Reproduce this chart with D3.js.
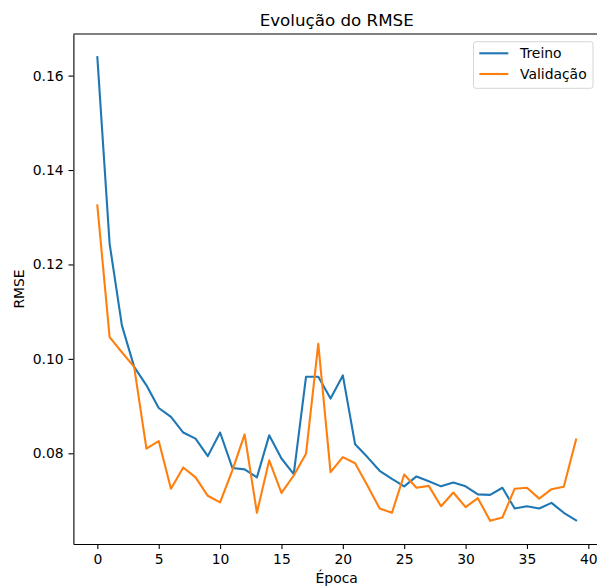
<!DOCTYPE html>
<html>
<head>
    <meta charset="utf-8" />
    <title>Evolução do RMSE</title>
    <style>
        body { margin: 0; background: #fff; }
        svg { display: block; font-family: "DejaVu Sans", sans-serif; }
        .line { fill: none; stroke-width: 2.1px; stroke-linejoin: round; stroke-linecap: square; }
        .axis text { font-size: 13.9px; fill: #000; font-family: "DejaVu Sans", sans-serif; }
        .axis line, .axis path { stroke: #000; stroke-width: 1.1px; }
    </style>
    <script src="https://cdn.jsdelivr.net/npm/d3@7"></script>
</head>
<body>
    <script>
        // data
        const epochs = d3.range(0, 40);
        const treino = [0.1639, 0.1244, 0.1071, 0.0983, 0.0944, 0.0896, 0.0877, 0.0844, 0.0831, 0.0794,
                        0.0844, 0.0769, 0.0766, 0.0749, 0.0838, 0.0789, 0.0756, 0.0962, 0.0962, 0.0916,
                        0.0965, 0.0819, 0.0792, 0.0763, 0.0746, 0.0730, 0.0751, 0.0741, 0.0730, 0.0738,
                        0.0730, 0.0713, 0.0712, 0.0727, 0.0683, 0.0688, 0.0683, 0.0695, 0.0674, 0.0658];
        const validacao = [0.1325, 0.1046, 0.1014, 0.0983, 0.0810, 0.0826, 0.0725, 0.0770, 0.0749, 0.0710,
                           0.0696, 0.0764, 0.0840, 0.0674, 0.0785, 0.0716, 0.0753, 0.0799, 0.1032, 0.0760,
                           0.0792, 0.0779, 0.0732, 0.0683, 0.0674, 0.0755, 0.0727, 0.0731, 0.0688, 0.0717,
                           0.0686, 0.0705, 0.0657, 0.0664, 0.0725, 0.0727, 0.0704, 0.0724, 0.0729, 0.0829];
        const xTicks = [0, 5, 10, 15, 20, 25, 30, 35, 40];
        const yTicks = [0.08, 0.10, 0.12, 0.14, 0.16];
        const seriesNames = ['Treino', 'Validação'];
        const colors = ['#1f77b4', '#ff7f0e'];

        const W = 597, H = 587;
        // plot box (right edge falls just outside the picture)
        const box = { left: 73.4, right: 600, top: 34, bottom: 544 };

        // matplotlib-like 5% margins
        const xExt = d3.extent(epochs);
        const xPad = (xExt[1] - xExt[0]) * 0.05;
        const allVals = treino.concat(validacao);
        const yExt = d3.extent(allVals);
        const yPad = (yExt[1] - yExt[0]) * 0.05;

        const x = d3.scaleLinear().domain([xExt[0] - xPad, xExt[1] + xPad]).range([box.left, box.right]);
        const y = d3.scaleLinear().domain([yExt[0] - yPad, yExt[1] + yPad]).range([box.bottom, box.top]);

        const svg = d3.select('body').append('svg')
            .attr('width', W)
            .attr('height', H);

        // lines
        const line = d3.line()
            .x((d, i) => x(epochs[i]))
            .y(d => y(d));

        [treino, validacao].forEach((s, k) => {
            svg.append('path')
                .datum(s)
                .attr('class', 'line')
                .style('stroke', colors[k])
                .attr('d', line);
        });

        // axes
        svg.append('g')
            .attr('class', 'axis')
            .attr('transform', 'translate(0,' + box.bottom + ')')
            .call(d3.axisBottom(x).tickValues(xTicks).tickFormat(d3.format('d'))
                .tickSize(4.9).tickPadding(4.9).tickSizeOuter(0));

        svg.append('g')
            .attr('class', 'axis')
            .attr('transform', 'translate(' + box.left + ',0)')
            .call(d3.axisLeft(y).tickValues(yTicks).tickFormat(d3.format('.2f'))
                .tickSize(4.9).tickPadding(4.9).tickSizeOuter(0));

        // top + right spines
        svg.append('line')
            .attr('x1', box.left).attr('x2', box.right)
            .attr('y1', box.top).attr('y2', box.top)
            .style('stroke', '#000').style('stroke-width', 1.1);
        svg.append('line')
            .attr('x1', box.right).attr('x2', box.right)
            .attr('y1', box.top).attr('y2', box.bottom)
            .style('stroke', '#000').style('stroke-width', 1.1);

        // title and axis labels
        const cx = (box.left + box.right) / 2;
        svg.append('text')
            .attr('x', cx).attr('y', 26)
            .attr('text-anchor', 'middle')
            .style('font-size', '16.7px')
            .text('Evolução do RMSE');

        svg.append('text')
            .attr('x', cx).attr('y', 583)
            .attr('text-anchor', 'middle')
            .style('font-size', '13.9px')
            .text('Época');

        svg.append('text')
            .attr('transform', 'translate(24,' + (box.top + box.bottom) / 2 + ') rotate(-90)')
            .attr('text-anchor', 'middle')
            .style('font-size', '13.9px')
            .text('RMSE');

        // legend
        const lg = svg.append('g').attr('transform', 'translate(473.5,41.7)');
        lg.append('rect')
            .attr('width', 119.5).attr('height', 46.6)
            .attr('rx', 2.5)
            .style('fill', '#fff').style('fill-opacity', 0.8)
            .style('stroke', '#d6d6d6').style('stroke-width', 1);

        const items = lg.selectAll('.item')
            .data(seriesNames)
            .enter().append('g')
            .attr('class', 'item')
            .attr('transform', (d, i) => 'translate(0,' + (11.6 + i * 20.7) + ')');
        items.append('line')
            .attr('x1', 5.8).attr('x2', 34.8)
            .style('stroke', (d, i) => colors[i])
            .style('stroke-width', 2.1);
        items.append('text')
            .attr('x', 46.5).attr('y', 5)
            .style('font-size', '13.9px')
            .text(d => d);
    </script>
</body>
</html>
